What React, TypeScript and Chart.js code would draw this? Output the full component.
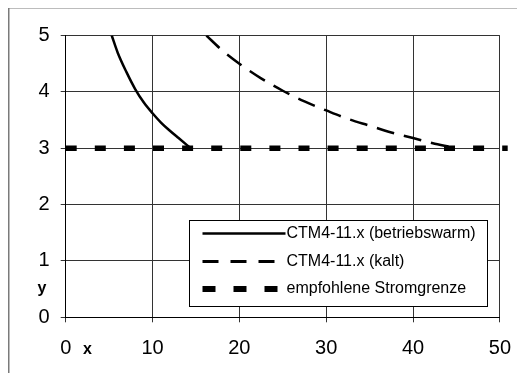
import React, { useEffect, useRef } from "react";
import { Chart, registerables } from "chart.js";

Chart.register(...registerables);

// ---- data ----
const warmX = [5.3, 6, 7, 8, 9, 10, 11, 12, 13, 14.4];
const warmY = [5.0, 4.69, 4.35, 4.05, 3.81, 3.62, 3.45, 3.31, 3.18, 3.0];

const coldX = [16.2, 18, 20, 22.5, 25, 27.5, 30, 32.5, 35, 37.5, 40, 42.5, 45.2];
const coldY = [5.0, 4.74, 4.5, 4.24, 4.02, 3.83, 3.67, 3.52, 3.4, 3.28, 3.18, 3.08, 3.0];

const limitX = [0, 50.9];
const limitY = [3, 3];

const seriesNames = [
  "CTM4-11.x (betriebswarm)",
  "CTM4-11.x (kalt)",
  "empfohlene Stromgrenze",
];

const xMin = 0;
const xMax = 50;
const xStep = 10;
const yMin = 0;
const yMax = 5;
const yStep = 1;
const xTitle = "x";
const yTitle = "y";

const FONT = "'Liberation Sans', Arial, sans-serif";

const toPoints = (xs: number[], ys: number[]) => xs.map((x, i) => ({ x, y: ys[i] }));

const framePlugin = {
  id: "frame",
  beforeDraw(chart: any) {
    const ctx = chart.ctx;
    ctx.save();
    ctx.fillStyle = "#ffffff";
    ctx.fillRect(0, 0, chart.width, chart.height);
    ctx.strokeStyle = "#7a7a7a";
    ctx.lineWidth = 1.5;
    ctx.beginPath();
    ctx.moveTo(0.75, chart.height);
    ctx.lineTo(0.75, 0.75);
    ctx.lineTo(chart.width, 0.75);
    ctx.stroke();
    ctx.restore();
  },
};

const extrasPlugin = {
  id: "extras",
  afterDraw(chart: any) {
    const ctx = chart.ctx;
    const xs = chart.scales.x;
    const ys = chart.scales.y;
    ctx.save();
    // axis letters
    ctx.fillStyle = "#000";
    ctx.font = `bold 16px ${FONT}`;
    ctx.textAlign = "center";
    ctx.textBaseline = "middle";
    ctx.fillText(xTitle, xs.getPixelForValue(2.5), xs.top + 32);
    ctx.fillText(yTitle, 34, ys.getPixelForValue(0.5) - 1);

    // legend box
    const bx = 181.5;
    const by = 213.5;
    const bw = 298;
    const bh = 86;
    ctx.fillStyle = "#ffffff";
    ctx.fillRect(bx, by, bw, bh);
    ctx.strokeStyle = "#000";
    ctx.lineWidth = 1;
    ctx.strokeRect(bx, by, bw, bh);

    const rowsY = [by + 13, by + 41, by + 68.5];
    chart.data.datasets.forEach((ds: any, i: number) => {
      const y = rowsY[i];
      ctx.save();
      ctx.strokeStyle = ds.borderColor;
      ctx.lineWidth = i === 2 ? 6 : i === 1 ? 3 : ds.borderWidth;
      ctx.lineCap = "butt";
      if (i === 1) ctx.setLineDash([16, 12]);
      else if (i === 2) ctx.setLineDash([13, 18]);
      else ctx.setLineDash([]);
      ctx.beginPath();
      ctx.moveTo(bx + 13, y);
      ctx.lineTo(bx + 96, y);
      ctx.stroke();
      ctx.restore();
      ctx.fillStyle = "#000";
      ctx.font = `16px ${FONT}`;
      ctx.textAlign = "left";
      ctx.textBaseline = "middle";
      ctx.fillText(ds.label, bx + 97, y);
    });
    ctx.restore();
  },
};

export default function App() {
  const ref = useRef<HTMLCanvasElement | null>(null);

  useEffect(() => {
    if (!ref.current) return;
    const chart = new Chart(ref.current, {
      type: "line",
      data: {
        datasets: [
          {
            label: seriesNames[0],
            data: toPoints(warmX, warmY),
            borderColor: "#000",
            borderWidth: 2.5,
            pointRadius: 0,
            cubicInterpolationMode: "monotone",
            fill: false,
          },
          {
            label: seriesNames[1],
            data: toPoints(coldX, coldY),
            borderColor: "#000",
            borderWidth: 2.5,
            borderDash: [18, 10],
            pointRadius: 0,
            cubicInterpolationMode: "monotone",
            fill: false,
          },
          {
            label: seriesNames[2],
            data: toPoints(limitX, limitY),
            borderColor: "#000",
            borderWidth: 5.5,
            borderDash: [11, 18.1],
            borderCapStyle: "butt",
            pointRadius: 0,
            fill: false,
            clip: false as any,
          },
        ],
      },
      options: {
        animation: false,
        responsive: false,
        maintainAspectRatio: false,
        layout: { padding: { top: 28.5, right: 23.3, left: 0, bottom: 0 } },
        plugins: {
          legend: { display: false },
          tooltip: { enabled: false },
          title: { display: false },
        },
        scales: {
          x: {
            type: "linear",
            min: xMin,
            max: xMax,
            ticks: {
              stepSize: xStep,
              color: "#000",
              padding: 14,
              font: { family: FONT, size: 20 },
            },
            grid: { color: "#333", lineWidth: 1, tickLength: 5, drawTicks: true },
            border: { color: "#000", width: 1 },
            afterFit: (s: any) => {
              s.height = 55.7;
            },
          },
          y: {
            type: "linear",
            min: yMin,
            max: yMax,
            ticks: {
              stepSize: yStep,
              color: "#000",
              padding: 11,
              font: { family: FONT, size: 20 },
            },
            grid: { color: "#333", lineWidth: 1, tickLength: 5, drawTicks: true },
            border: { color: "#000", width: 1 },
            afterFit: (s: any) => {
              s.width = 57.7;
            },
          },
        },
      },
      plugins: [framePlugin, extrasPlugin],
    });
    return () => chart.destroy();
  }, []);

  return (
    <div style={{ marginTop: -1, width: 517, height: 366 }}>
      <canvas ref={ref} width={517} height={366} style={{ display: "block", width: 517, height: 366 }} />
    </div>
  );
}
